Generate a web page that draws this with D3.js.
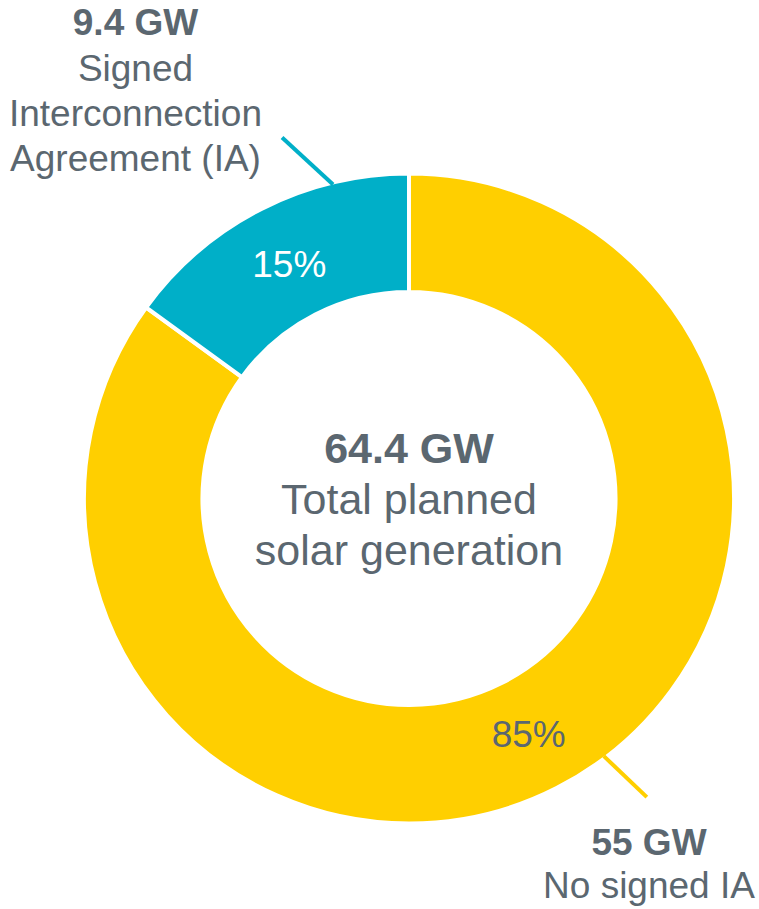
<!DOCTYPE html>
<html>
<head>
<meta charset="utf-8">
<script src="https://cdn.jsdelivr.net/npm/d3@7"></script>
<style>
  html, body { margin: 0; padding: 0; background: #ffffff; }
  svg { display: block; }
  svg text { font-family: "Liberation Sans", Arial, Helvetica, sans-serif; }
</style>
</head>
<body>
<svg id="chart" width="759" height="909"></svg>
<script>
// ---- data ----
const categories = ["No signed IA", "Signed Interconnection Agreement (IA)"];
const gwValues = [55, 9.4];
const shares = [85, 15];
const totalLabel = "64.4 GW";
const centerLines = ["Total planned", "solar generation"];
const labelLines = [["No signed IA"], ["Signed", "Interconnection", "Agreement (IA)"]];

// ---- style ----
const FONT = "'Liberation Sans', Arial, Helvetica, sans-serif";
const colors = ["#FFCF00", "#00AFC8"];
const pctColors = ["#5B6770", "#ffffff"];
const textColor = "#5B6770";

const svg = d3.select("#chart");
const cx = 409, cy = 498.5;
const outerR = 325, innerR = 206.5;

const pie = d3.pie().sort(null).value(d => d).startAngle(0).endAngle(2 * Math.PI);
const arcs = pie(shares);
const arc = d3.arc().innerRadius(innerR).outerRadius(outerR);
const labelArc = d3.arc().innerRadius(innerR).outerRadius(outerR - 4);

const g = svg.append("g").attr("transform", `translate(${cx},${cy})`);

g.selectAll("path.slice")
  .data(arcs)
  .join("path")
  .attr("class", "slice")
  .attr("d", arc)
  .attr("fill", (d, i) => colors[i])
  .attr("stroke", "#ffffff")
  .attr("stroke-width", 4)
  .attr("stroke-linejoin", "miter");

// percentage labels at centroid
g.selectAll("text.pct")
  .data(arcs)
  .join("text")
  .attr("class", "pct")
  .attr("font-family", FONT)
  .attr("x", d => labelArc.centroid(d)[0])
  .attr("y", d => labelArc.centroid(d)[1] + 13)
  .attr("text-anchor", "middle")
  .attr("font-size", 37)
  .attr("fill", (d, i) => pctColors[i])
  .text((d, i) => shares[i] + "%");

// leader lines: start on outer edge at a given angle (deg, clockwise from top), then offset
const leaders = [
  { angle: 142.9, dx: 43, dy: 41 },
  { angle: 346.4, dx: -51, dy: -47 }
];
leaders.forEach((l, i) => {
  const a = l.angle * Math.PI / 180;
  const x1 = (outerR - 2) * Math.sin(a), y1 = -(outerR - 2) * Math.cos(a);
  g.append("line")
    .attr("x1", x1).attr("y1", y1)
    .attr("x2", x1 + l.dx).attr("y2", y1 + l.dy)
    .attr("stroke", colors[i])
    .attr("stroke-width", 4);
});

// outside labels
const labelPos = [
  { x: 649, y: 855, lh: 43 },
  { x: 135.5, y: 35, lh: 45 }
];
labelPos.forEach((p, i) => {
  const t = svg.append("text")
    .attr("font-family", FONT)
    .attr("text-anchor", "middle")
    .attr("fill", textColor)
    .attr("font-size", 37);
  t.append("tspan")
    .attr("x", p.x).attr("y", p.y)
    .attr("font-weight", "bold")
    .text(gwValues[i] + " GW");
  labelLines[i].forEach((ln, j) => {
    t.append("tspan")
      .attr("x", p.x).attr("y", p.y + (j + 1) * p.lh + (i === 1 ? 1 : 0))
      .text(ln);
  });
});

// center text
const ct = svg.append("text")
  .attr("font-family", FONT)
  .attr("text-anchor", "middle")
  .attr("fill", textColor)
  .attr("font-size", 43);
ct.append("tspan").attr("x", cx).attr("y", 463).attr("font-weight", "bold").text(totalLabel);
centerLines.forEach((ln, j) => {
  ct.append("tspan").attr("x", cx).attr("y", 514 + j * 51).text(ln);
});
</script>
</body>
</html>
